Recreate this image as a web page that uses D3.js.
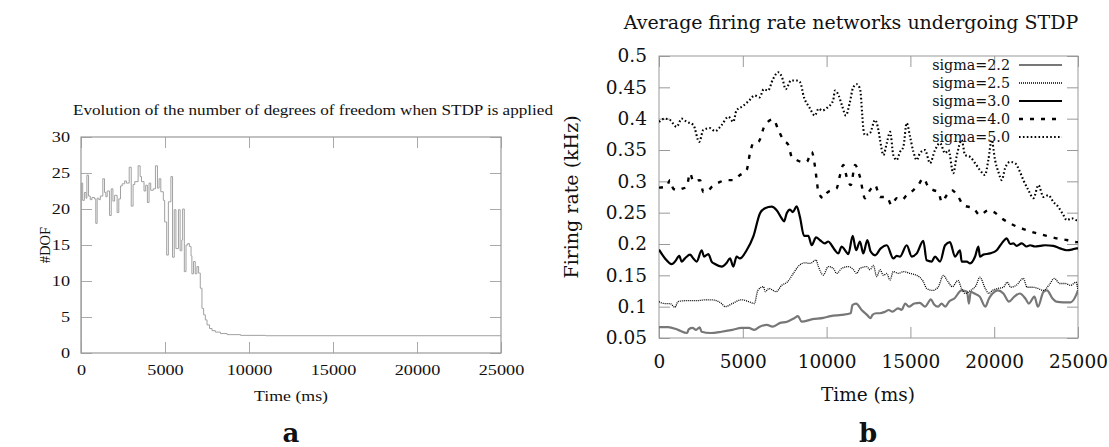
<!DOCTYPE html>
<html><head><meta charset="utf-8">
<script src="https://cdn.jsdelivr.net/npm/d3@7"></script>
<style>body{margin:0;background:#fff}svg{display:block}</style>
</head><body>
<svg id="c" width="1109" height="447"></svg>
<script>
// ---------- Data: panel a ----------
const dofTitle = "Evolution of the number of degrees of freedom when STDP is applied";
const dofXTicks = [0, 5000, 10000, 15000, 20000, 25000];
const dofYTicks = [0, 5, 10, 15, 20, 25, 30];
const dofTime  = [0, 20, 100, 200, 300, 350, 450, 550, 650, 800, 880, 960, 1060, 1150, 1300, 1400, 1480, 1560, 1700, 1800, 1900, 2000, 2150, 2250, 2350, 2450, 2600, 2700, 2870, 2990, 3100, 3200, 3400, 3520, 3600, 3750, 3850, 3950, 4050, 4150, 4300, 4430, 4550, 4650, 4750, 4900, 4980, 5100, 5200, 5350, 5450, 5550, 5650, 5800, 5900, 6000, 6050, 6150, 6250, 6350, 6450, 6550, 6600, 6700, 6800, 6900, 7000, 7100, 7200, 7300, 7400, 7500, 7650, 7800, 8000, 8300, 8700, 9500, 11000, 25000];
const dofValue = [0, 23.6, 21.2, 22.3, 21.5, 24.7, 21.8, 21.3, 21.6, 21.4, 18.0, 21.5, 21.3, 21.8, 24.2, 22.3, 21.7, 22.5, 19.1, 22.8, 21.1, 21.9, 19.5, 21.4, 23.2, 23.5, 23.9, 23.6, 25.8, 20.4, 23.4, 23.8, 26.0, 24.5, 23.8, 22.5, 23.3, 20.9, 23.6, 22.6, 22.8, 26.0, 22.9, 24.2, 22.4, 21.2, 18.2, 13.6, 21.0, 24.5, 13.3, 19.9, 14.5, 19.9, 14.2, 15.7, 20.0, 11.3, 15.0, 15.2, 14.8, 13.5, 11.0, 12.7, 11.0, 12.0, 11.1, 9.0, 6.2, 5.3, 4.6, 3.9, 3.4, 3.1, 2.9, 2.7, 2.55, 2.45, 2.4, 2.4];

// ---------- Data: panel b ----------
const rateTitle = "Average firing rate networks undergoing STDP";
const rateXTicks = [0, 5000, 10000, 15000, 20000, 25000];
const rateYTicks = [0.05, 0.1, 0.15, 0.2, 0.25, 0.3, 0.35, 0.4, 0.45, 0.5];
const seriesNames = ["sigma=2.2", "sigma=2.5", "sigma=3.0", "sigma=4.0", "sigma=5.0"];
const sigma22 = [[0,0.0674],[550,0.0674],[1130,0.063],[1670,0.058],[1780,0.064],[2000,0.066],[2210,0.063],[2430,0.067],[2540,0.060],[3080,0.058],[3730,0.060],[4380,0.063],[4930,0.066],[5360,0.066],[5690,0.063],[6010,0.068],[6440,0.071],[6770,0.068],[7200,0.0737],[7640,0.076],[8070,0.0816],[8290,0.085],[8510,0.076],[9160,0.080],[9810,0.082],[10240,0.085],[10890,0.0868],[11440,0.0895],[11540,0.1026],[11760,0.105],[12090,0.0947],[12410,0.087],[12630,0.0816],[12740,0.087],[12960,0.0895],[13170,0.0895],[13500,0.092],[13710,0.0947],[13930,0.092],[14260,0.0974],[14480,0.095],[14690,0.105],[14910,0.100],[15230,0.105],[15560,0.106],[15880,0.100],[16100,0.108],[16210,0.1116],[16430,0.103],[16650,0.100],[16860,0.105],[17080,0.100],[17300,0.108],[17620,0.113],[18050,0.126],[18380,0.1237],[18490,0.105],[18600,0.1237],[18820,0.121],[19140,0.116],[19470,0.100],[19690,0.113],[19900,0.121],[20220,0.126],[20550,0.121],[20880,0.108],[21200,0.116],[21530,0.121],[21860,0.113],[22070,0.105],[22400,0.116],[22610,0.100],[22940,0.1237],[23150,0.126],[23480,0.113],[23700,0.108],[24130,0.107],[24560,0.107],[24880,0.118],[25000,0.126]];
const sigma25 = [[0,0.108],[330,0.105],[650,0.105],[955,0.099],[1130,0.108],[1560,0.1095],[2210,0.1095],[2860,0.111],[3300,0.1105],[3730,0.105],[3950,0.100],[4380,0.105],[4925,0.111],[5360,0.108],[5690,0.105],[5900,0.126],[6230,0.132],[6340,0.124],[6560,0.129],[6990,0.124],[7320,0.134],[7640,0.139],[8015,0.153],[8300,0.164],[8712,0.170],[9010,0.169],[9370,0.1744],[9510,0.164],[9805,0.1505],[10100,0.164],[10400,0.161],[10600,0.153],[10900,0.161],[11300,0.164],[11600,0.159],[11790,0.153],[11990,0.161],[12390,0.164],[12590,0.159],[12790,0.166],[12990,0.148],[13190,0.159],[13390,0.150],[13590,0.153],[13780,0.1425],[13980,0.156],[14280,0.153],[14580,0.156],[14980,0.153],[15380,0.150],[15770,0.140],[15970,0.129],[16320,0.126],[16650,0.131],[16970,0.150],[17190,0.142],[17510,0.132],[17840,0.142],[18050,0.129],[18270,0.121],[18600,0.126],[18920,0.134],[19140,0.147],[19470,0.129],[19680,0.121],[19900,0.126],[20220,0.129],[20550,0.131],[20770,0.139],[20990,0.131],[21310,0.134],[21740,0.145],[21960,0.131],[22290,0.131],[22610,0.129],[22940,0.126],[23260,0.134],[23590,0.145],[23910,0.137],[24240,0.137],[24560,0.134],[24890,0.139],[25000,0.126]];
const sigma30 = [[0,0.191],[360,0.177],[756,0.168],[955,0.172],[1213,0.181],[1350,0.172],[1550,0.177],[1850,0.183],[2050,0.177],[2250,0.172],[2546,0.190],[2690,0.180],[2945,0.184],[3140,0.172],[3340,0.168],[3740,0.164],[4040,0.170],[4237,0.177],[4435,0.164],[4630,0.180],[4830,0.177],[5230,0.190],[5630,0.212],[6027,0.249],[6325,0.257],[6723,0.2595],[7020,0.254],[7320,0.241],[7460,0.236],[7620,0.249],[7817,0.255],[7980,0.251],[8215,0.260],[8410,0.243],[8652,0.213],[8910,0.213],[9110,0.198],[9370,0.2105],[9610,0.206],[9900,0.201],[10100,0.204],[10300,0.198],[10500,0.190],[10700,0.185],[10900,0.196],[11100,0.190],[11300,0.184],[11557,0.213],[11760,0.190],[11990,0.204],[12190,0.185],[12430,0.2063],[12630,0.188],[12890,0.182],[13230,0.193],[13590,0.198],[13980,0.177],[14180,0.181],[14380,0.180],[14780,0.198],[15080,0.180],[15380,0.185],[15770,0.205],[15970,0.174],[16270,0.172],[16470,0.180],[16770,0.172],[17070,0.198],[17360,0.203],[17660,0.180],[17960,0.190],[18060,0.172],[18360,0.172],[18560,0.169],[18860,0.180],[19055,0.196],[19150,0.180],[19350,0.183],[19750,0.185],[20150,0.190],[20450,0.201],[20750,0.209],[20950,0.200],[21140,0.201],[21340,0.197],[21640,0.201],[21940,0.196],[22140,0.198],[22440,0.196],[22740,0.197],[23030,0.198],[23530,0.197],[23930,0.193],[24330,0.190],[24630,0.191],[24920,0.193],[25000,0.193]];
const sigma40 = [[0,0.290],[460,0.292],[656,0.302],[860,0.288],[1150,0.286],[1350,0.288],[1650,0.291],[1850,0.313],[2050,0.300],[2446,0.302],[2645,0.283],[2840,0.283],[3140,0.291],[3640,0.299],[4040,0.302],[4435,0.302],[4830,0.310],[5230,0.318],[5430,0.345],[5630,0.361],[5930,0.363],[6325,0.390],[6822,0.399],[7120,0.382],[7420,0.366],[7720,0.358],[7917,0.339],[8215,0.334],[8513,0.331],[8810,0.331],[9110,0.347],[9310,0.323],[9410,0.302],[9510,0.283],[9805,0.273],[10000,0.281],[10300,0.286],[10600,0.289],[10800,0.310],[11000,0.326],[11200,0.307],[11440,0.294],[11700,0.326],[11990,0.307],[12290,0.273],[12590,0.286],[12890,0.294],[13190,0.275],[13590,0.275],[13880,0.262],[14180,0.273],[14480,0.270],[14780,0.278],[15180,0.286],[15470,0.294],[15770,0.305],[16070,0.291],[16370,0.286],[16670,0.283],[16870,0.267],[17170,0.278],[17460,0.286],[17860,0.275],[18160,0.262],[18760,0.257],[19150,0.246],[19650,0.254],[19950,0.2515],[20450,0.241],[21140,0.2303],[21840,0.223],[22540,0.217],[23130,0.213],[23730,0.209],[24330,0.2063],[24920,0.203],[25000,0.203]];
const sigma50 = [[0,0.395],[358,0.400],[650,0.398],[1054,0.387],[1350,0.400],[1650,0.395],[2050,0.390],[2400,0.363],[2645,0.382],[3040,0.385],[3340,0.380],[3740,0.390],[4140,0.403],[4435,0.395],[4620,0.413],[5000,0.420],[5380,0.429],[5700,0.437],[6000,0.434],[6250,0.447],[6500,0.445],[6800,0.463],[7120,0.474],[7340,0.466],[7560,0.447],[7880,0.461],[8200,0.461],[8420,0.458],[8650,0.434],[8970,0.418],[9300,0.405],[9520,0.416],[9740,0.413],[10060,0.418],[10390,0.429],[10500,0.445],[10720,0.437],[10930,0.420],[11150,0.405],[11370,0.424],[11590,0.450],[11800,0.455],[12000,0.447],[12130,0.405],[12200,0.382],[12290,0.374],[12590,0.377],[12890,0.398],[13090,0.382],[13190,0.366],[13390,0.342],[13590,0.361],[13790,0.379],[13980,0.342],[14180,0.334],[14380,0.347],[14580,0.355],[14780,0.393],[14980,0.371],[15180,0.347],[15380,0.334],[15570,0.345],[15870,0.350],[16170,0.329],[16470,0.350],[16770,0.361],[17070,0.345],[17270,0.350],[17560,0.313],[17760,0.340],[18060,0.366],[18260,0.342],[18560,0.339],[18860,0.329],[19150,0.318],[19450,0.310],[19650,0.334],[19850,0.366],[20050,0.334],[20250,0.315],[20450,0.302],[20650,0.321],[20950,0.331],[21240,0.329],[21540,0.315],[21740,0.302],[22040,0.286],[22340,0.273],[22640,0.294],[22940,0.275],[23230,0.278],[23530,0.267],[23830,0.259],[24130,0.246],[24330,0.238],[24630,0.241],[24920,0.238],[25000,0.238]];

const svg = d3.select("#c");

// ================= Panel a =================
const serifA = "Liberation Serif";
const stretch = 1.3;
const A = {x0: 81, x1: 501, y0: 137, y1: 353};
const xA = d3.scaleLinear().domain([0, 25000]).range([A.x0, A.x1]);
const yA = d3.scaleLinear().domain([0, 30]).range([A.y1, A.y0]);
const gA = svg.append("g");

function styleAxis(g, color, fontFamily, fontSize) {
  g.select(".domain").remove();
  g.selectAll(".tick line").attr("stroke", color).attr("stroke-width", 1);
  g.selectAll("text").style("font-family", fontFamily).attr("font-size", fontSize).attr("fill", "#111");
}
const tickA = 11;
const axA_b = gA.append("g").attr("transform", `translate(0,${A.y1})`)
  .call(d3.axisBottom(xA).tickValues(dofXTicks).tickSizeInner(-tickA).tickSizeOuter(0).tickPadding(12).tickFormat(d3.format("d")));
styleAxis(axA_b, "#aaa", serifA, 14);
axA_b.selectAll("text").attr("transform", `scale(${stretch},1)`);
const axA_t = gA.append("g").attr("transform", `translate(0,${A.y0})`)
  .call(d3.axisTop(xA).tickValues(dofXTicks).tickSizeInner(-tickA).tickSizeOuter(0).tickFormat(""));
styleAxis(axA_t, "#aaa", serifA, 14);
const axA_l = gA.append("g").attr("transform", `translate(${A.x0},0)`)
  .call(d3.axisLeft(yA).tickValues(dofYTicks).tickSizeInner(-tickA).tickSizeOuter(0).tickPadding(0).tickFormat(d3.format("d")));
styleAxis(axA_l, "#aaa", serifA, 14);
axA_l.selectAll("text").attr("x", -11 / stretch).attr("transform", `scale(${stretch},1)`);
const axA_r = gA.append("g").attr("transform", `translate(${A.x1},0)`)
  .call(d3.axisRight(yA).tickValues(dofYTicks).tickSizeInner(-tickA).tickSizeOuter(0).tickFormat(""));
styleAxis(axA_r, "#aaa", serifA, 14);
gA.append("rect").attr("x", A.x0).attr("y", A.y0).attr("width", A.x1 - A.x0).attr("height", A.y1 - A.y0)
  .attr("fill", "none").attr("stroke", "#999").attr("stroke-width", 1.2);

const dofData = dofTime.map((t, i) => [t, dofValue[i]]);
gA.append("path").datum(dofData)
  .attr("d", d3.line().x(d => xA(d[0])).y(d => yA(d[1])).curve(d3.curveStepAfter))
  .attr("fill", "none").attr("stroke", "#a0a0a0").attr("stroke-width", 1);

gA.append("text").attr("x", 313).attr("y", 115).attr("text-anchor", "middle")
  .attr("textLength", 480).attr("lengthAdjust", "spacingAndGlyphs")
  .style("font-family", serifA).attr("font-size", 14.5).attr("fill", "#111").text(dofTitle);
gA.append("text").attr("x", 291).attr("y", 401).attr("text-anchor", "middle")
  .attr("textLength", 74).attr("lengthAdjust", "spacingAndGlyphs")
  .style("font-family", serifA).attr("font-size", 14).attr("fill", "#111").text("Time (ms)");
gA.append("text").attr("transform", `translate(50,245) rotate(-90)`)
  .attr("text-anchor", "middle").style("font-family", serifA).attr("font-size", 14.5).attr("fill", "#111").text("#DOF");
gA.append("text").attr("x", 291).attr("y", 442).attr("text-anchor", "middle")
  .style("font-family", "DejaVu Serif").attr("font-weight", "bold").attr("font-size", 26).attr("fill", "#111").text("a");

// ================= Panel b =================
const serifB = "DejaVu Serif";
const B = {x0: 659, x1: 1078, y0: 56, y1: 338};
const xB = d3.scaleLinear().domain([0, 25000]).range([B.x0, B.x1]);
const yB = d3.scaleLinear().domain([0.05, 0.5]).range([B.y1, B.y0]);
const gB = svg.append("g");
const tickB = 11;
const axB_b = gB.append("g").attr("transform", `translate(0,${B.y1})`)
  .call(d3.axisBottom(xB).tickValues(rateXTicks).tickSizeInner(-tickB).tickSizeOuter(0).tickPadding(17).tickFormat(d3.format("d")));
styleAxis(axB_b, "#999", serifB, 18.5);
const axB_t = gB.append("g").attr("transform", `translate(0,${B.y0})`)
  .call(d3.axisTop(xB).tickValues(rateXTicks).tickSizeInner(-tickB).tickSizeOuter(0).tickFormat(""));
styleAxis(axB_t, "#999", serifB, 18.5);
const axB_l = gB.append("g").attr("transform", `translate(${B.x0},0)`)
  .call(d3.axisLeft(yB).tickValues(rateYTicks).tickSizeInner(-tickB).tickSizeOuter(0).tickPadding(12).tickFormat(d => String(+d.toFixed(2))));
styleAxis(axB_l, "#999", serifB, 18.5);
const axB_r = gB.append("g").attr("transform", `translate(${B.x1},0)`)
  .call(d3.axisRight(yB).tickValues(rateYTicks).tickSizeInner(-tickB).tickSizeOuter(0).tickFormat(""));
styleAxis(axB_r, "#999", serifB, 18.5);
gB.append("rect").attr("x", B.x0).attr("y", B.y0).attr("width", B.x1 - B.x0).attr("height", B.y1 - B.y0)
  .attr("fill", "none").attr("stroke", "#999").attr("stroke-width", 1);

svg.append("clipPath").attr("id", "clipB").append("rect")
  .attr("x", B.x0).attr("y", B.y0).attr("width", B.x1 - B.x0).attr("height", B.y1 - B.y0);

const styles = [
  {color: "#777", width: 2.2, dash: null},
  {color: "#000", width: 1.3, dash: "1,1"},
  {color: "#000", width: 2.2, dash: null},
  {color: "#000", width: 2.4, dash: "4,7"},
  {color: "#000", width: 2.1, dash: "1.6,2.3"}
];
const allSeries = [sigma22, sigma25, sigma30, sigma40, sigma50];
const lineB = d3.line().x(d => xB(d[0])).y(d => yB(d[1])).curve(d3.curveMonotoneX);
const plotB = gB.append("g").attr("clip-path", "url(#clipB)");
allSeries.forEach((s, i) => {
  plotB.append("path").datum(s).attr("d", lineB)
    .attr("fill", "none").attr("stroke", styles[i].color).attr("stroke-width", styles[i].width)
    .attr("stroke-dasharray", styles[i].dash).attr("stroke-linejoin", "round");
});

// legend
const leg = gB.append("g");
seriesNames.forEach((name, i) => {
  const y = 65 + i * 18;
  leg.append("text").attr("x", 1010).attr("y", y).attr("dy", "0.35em").attr("text-anchor", "end")
    .style("font-family", serifB).attr("font-size", 14.3).attr("fill", "#111").text(name);
  leg.append("line").attr("x1", 1019).attr("x2", 1062).attr("y1", y).attr("y2", y)
    .attr("stroke", styles[i].color).attr("stroke-width", styles[i].width).attr("stroke-dasharray", styles[i].dash);
});

gB.append("text").attr("x", 851).attr("y", 29).attr("text-anchor", "middle")
  .style("font-family", serifB).attr("font-size", 19).attr("fill", "#111").text(rateTitle);
gB.append("text").attr("x", 868).attr("y", 401).attr("text-anchor", "middle")
  .style("font-family", serifB).attr("font-size", 18.5).attr("fill", "#111").text("Time (ms)");
gB.append("text").attr("transform", "translate(578,197) rotate(-90)").attr("text-anchor", "middle")
  .style("font-family", serifB).attr("font-size", 19).attr("fill", "#111").text("Firing rate (kHz)");
gB.append("text").attr("x", 868).attr("y", 442).attr("text-anchor", "middle")
  .style("font-family", serifB).attr("font-weight", "bold").attr("font-size", 26).attr("fill", "#111").text("b");
</script>
</body></html>
